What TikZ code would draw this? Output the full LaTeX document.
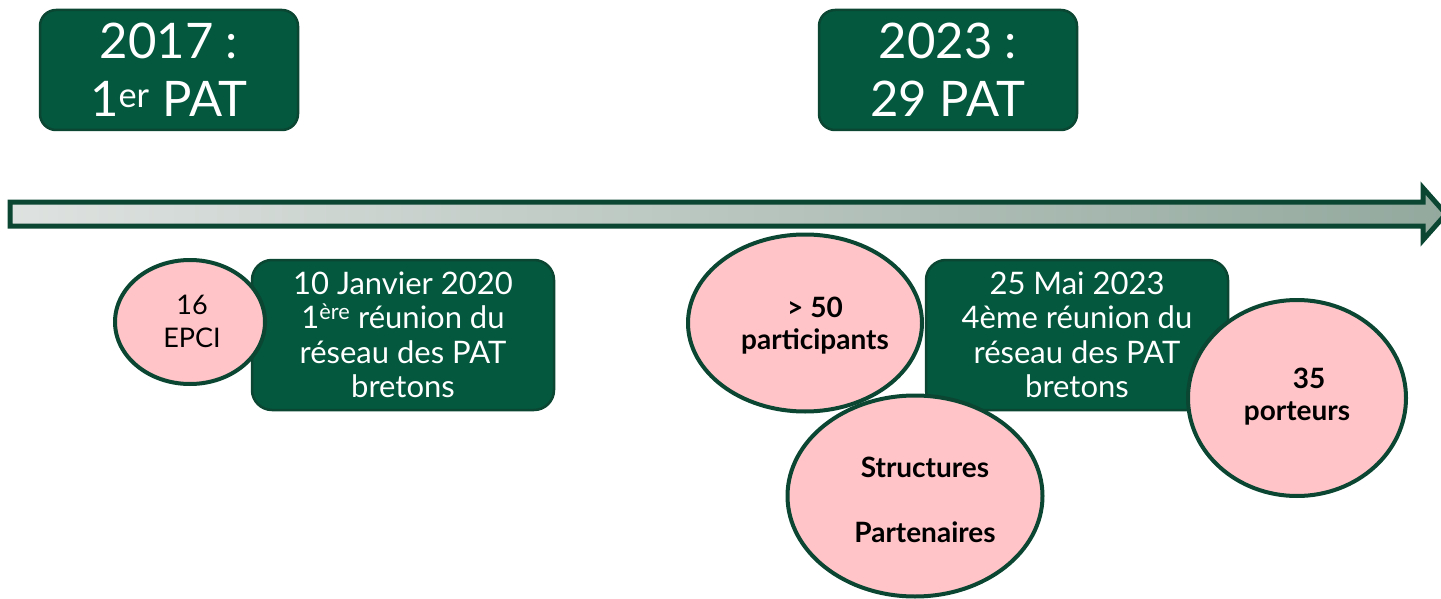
\documentclass[tikz,border=0pt]{standalone}
\usepackage{fontspec}
\setmainfont{Lato}
\usetikzlibrary{shapes.geometric}
\definecolor{dgreen}{HTML}{03583E}
\definecolor{bgreen}{HTML}{0A4632}
\definecolor{pinkf}{HTML}{FFC4C8}
\definecolor{arrl}{HTML}{DEE2E0}
\definecolor{arrr}{HTML}{93A99E}
\tikzset{
  yearbox/.style={draw=bgreen, line width=2.5pt, fill=dgreen, rounded corners=16pt,
    minimum width=258pt, minimum height=120pt, text=white, align=center,
    font=\fontsize{49}{56}\selectfont, inner sep=0pt},
  meetbox/.style={draw=bgreen, line width=2.5pt, fill=dgreen, rounded corners=20pt,
    minimum width=302pt, minimum height=150pt, text=white, align=center,
    font=\fontsize{31}{34.5}\selectfont, inner sep=0pt},
  bubble/.style={ellipse, draw=bgreen, line width=4pt, fill=pinkf, inner sep=0pt},
  btext/.style={align=center, text=black, inner sep=0pt, font=\bfseries\fontsize{28}{32}\selectfont},
}
\begin{document}
\begin{tikzpicture}[x=1pt,y=-1pt]
\useasboundingbox (0,0) rectangle (1441,599);
% timeline arrow
\shade[left color=arrl, right color=arrr, draw=bgreen, line width=5pt, line join=miter]
  (10,202) -- (1423,202) -- (1423,188) -- (1446,214) -- (1423,240) -- (1423,226) -- (10,226) -- cycle;
% top boxes
\node[yearbox] (y2017) at (169,70) {2017 :\\[2pt]1\textsuperscript{er} PAT};
\node[yearbox] (y2023) at (948,70) {2023 :\\[2pt]29 PAT};
% 2020 meeting
\node[meetbox] (m2020) at (403,335) {10 Janvier 2020\\1\textsuperscript{ère} réunion du\\réseau des PAT\\bretons};
\node[bubble, minimum width=150pt, minimum height=124pt] (epci) at (190,322) {};
\node[btext, font=\fontsize{27}{33}\selectfont] (epcit) at (192,321) {16\\EPCI};
% 2023 meeting
\node[meetbox] (m2023) at (1077,335) {25 Mai 2023\\4ème réunion du\\réseau des PAT\\bretons};
\node[bubble, minimum width=234pt, minimum height=177pt] (part) at (805,323) {};
\node[btext] (partt) at (815,326) {> 50\\participants};
\node[bubble, minimum width=255pt, minimum height=201pt] (struct) at (915,496) {};
\node[btext] (structt) at (925,500) {Structures\\[33pt]Partenaires};
\node[bubble, minimum width=218pt, minimum height=196pt] (porteurs) at (1297,398) {};
\node[btext] (porteurst) at (1297,397) {\hspace*{24pt}35\\porteurs};
\end{tikzpicture}
\end{document}
